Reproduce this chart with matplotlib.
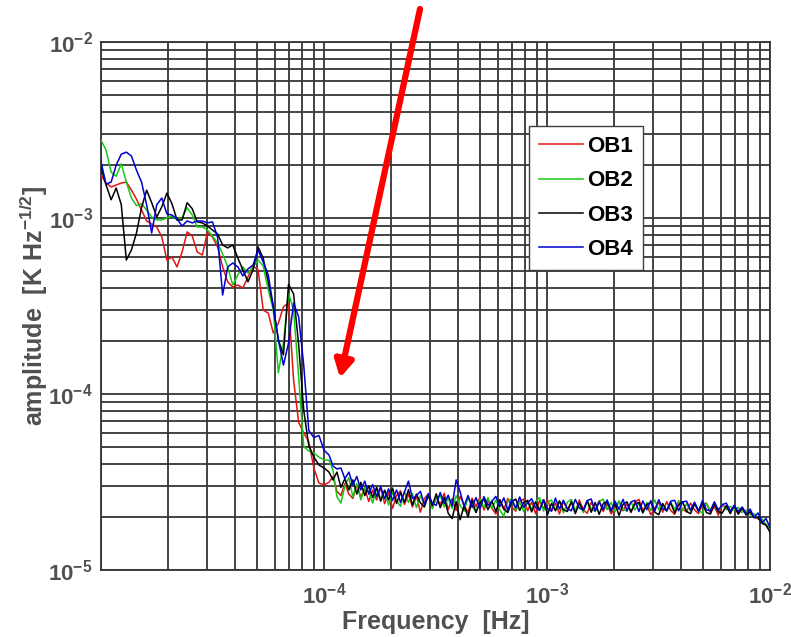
import numpy as np
import matplotlib
matplotlib.use("Agg")
import matplotlib.pyplot as plt
from matplotlib.ticker import LogLocator, FixedLocator, FixedFormatter, NullFormatter
from matplotlib.patches import FancyArrowPatch

plt.rcParams["font.family"] = ["Liberation Sans", "DejaVu Sans"]
plt.rcParams["mathtext.fontset"] = "custom"
plt.rcParams["mathtext.rm"] = "Liberation Sans"
plt.rcParams["mathtext.bf"] = "Liberation Sans:bold"
plt.rcParams["mathtext.it"] = "Liberation Sans:italic"

# Frequency bins [Hz]
freq_low = np.geomspace(1e-5, 1e-4, 45)
freq_high = np.geomspace(1.053e-4, 1e-2, 112)

# Amplitude spectral densities in micro-K Hz^-1/2
ob1_low = [1750, 1580, 1500, 1540, 1580, 1600, 1440, 1280, 1110, 962,
           925, 889, 779, 577, 600, 527, 641, 833, 790, 641,
           616, 833, 779, 685, 527, 434, 405, 416, 400, 463,
           534, 507, 300, 288, 222, 253, 313, 329, 120, 69,
           60, 53.5, 38, 31.2, 30.4]
ob2_low = [2770, 2430, 1822, 1727, 2031, 1600, 1298, 1175, 1205, 1110,
           1013, 975, 975, 1000, 1026, 975, 1000, 1144, 1040, 889,
           889, 855, 790, 721, 624, 527, 416, 475, 527, 487,
           527, 577, 534, 390, 300, 132, 195, 375, 300, 125,
           50.2, 47.4, 46.2, 43.8, 42.2]
ob3_low = [1920, 1540, 1270, 1480, 1190, 577, 658, 822, 1144, 1440,
           1221, 1013, 1159, 1385, 1205, 975, 975, 1221, 1129, 950,
           938, 901, 855, 811, 703, 676, 703, 592, 507, 434,
           507, 685, 592, 434, 313, 203, 167, 420, 370, 190,
           81, 50.8, 43.8, 39.5, 38]
ob4_low = [2085, 1556, 1600, 2000, 2306, 2367, 2250, 1870, 1600, 1190,
           822, 1190, 1298, 1054, 1040, 987, 901, 962, 938, 962,
           962, 938, 950, 779, 365, 527, 555, 527, 469, 514,
           541, 658, 562, 475, 313, 203, 146, 195, 329, 274,
           146, 62, 56.6, 58.1, 48]

ob1_high = [31.5, 34.0, 28.0, 26.5, 31.0, 27.0, 25.5, 30.5, 26.0, 29.0,
            24.5, 28.5, 25.0, 29.4, 23.8, 27.6, 22.4, 26.5, 28.2, 23.6,
            27.0, 22.8, 26.4, 21.3, 25.5, 27.0, 22.6, 25.8, 23.4, 27.3,
            22.0, 25.4, 21.8, 26.2, 23.4, 21.2, 25.6, 22.9, 26.0, 21.9,
            25.0, 22.4, 20.8, 24.9, 22.0, 25.5, 22.8, 21.6, 24.6, 25.3,
            21.7, 24.3, 20.9, 24.8, 22.3, 25.1, 21.6, 24.0, 20.8, 24.5,
            22.0, 24.5, 21.4, 25.0, 22.0, 21.0, 24.2, 21.9, 24.8, 21.5,
            23.9, 20.8, 22.6, 24.6, 21.7, 23.8, 21.2, 24.3, 25.2, 21.8,
            23.5, 20.6, 22.5, 24.2, 21.3, 24.5, 21.8, 20.7, 23.8, 22.2,
            21.4, 24.0, 22.0, 20.9, 23.6, 24.0, 21.2, 22.9, 20.5, 23.3,
            22.8, 21.3, 22.9, 20.8, 22.2, 20.9, 21.0, 20.2, 19.5, 18.9,
            18.0, 16.7]
ob2_high = [42.0, 37.0, 26.0, 24.0, 30.0, 33.5, 26.0, 31.0, 25.0, 29.5,
            28.0, 24.0, 29.0, 25.4, 28.3, 23.4, 27.5, 24.8, 23.0, 27.9,
            24.2, 27.2, 22.6, 26.4, 23.7, 26.8, 22.3, 25.6, 26.5, 22.8,
            25.6, 22.4, 26.4, 23.3, 21.6, 25.7, 23.1, 21.3, 25.3, 22.6,
            25.8, 22.3, 25.0, 21.9, 20.2, 24.7, 25.4, 21.9, 24.3, 21.5,
            24.9, 22.1, 24.4, 25.8, 21.6, 24.1, 25.0, 21.8, 24.6, 21.1,
            24.3, 25.2, 21.7, 24.0, 21.2, 24.8, 22.3, 21.5, 24.5, 25.3,
            22.0, 24.2, 21.4, 24.7, 22.1, 21.6, 24.4, 21.9, 24.0, 21.0,
            24.2, 21.8, 25.0, 22.0, 23.9, 21.5, 24.3, 22.1, 24.8, 21.7,
            23.8, 21.6, 24.1, 21.9, 21.0, 23.9, 21.8, 24.2, 21.4, 23.7,
            22.0, 23.0, 21.9, 22.7, 21.2, 21.9, 20.6, 20.9, 19.7, 19.5,
            18.2, 17.0]
ob3_high = [36.0, 32.5, 36.0, 29.5, 33.0, 28.5, 32.5, 27.0, 31.5, 26.5,
            30.0, 25.8, 29.5, 24.6, 28.4, 25.0, 29.2, 23.9, 27.5, 24.2,
            28.6, 23.4, 27.0, 24.1, 22.8, 26.5, 23.2, 27.1, 22.6, 25.8,
            21.0, 19.6, 24.5, 19.3, 23.2, 20.0, 24.9, 21.2, 24.1, 25.4,
            22.0, 24.6, 21.5, 25.1, 22.3, 21.2, 24.4, 25.3, 21.8, 24.2,
            24.8, 21.4, 24.3, 21.9, 25.0, 20.6, 23.9, 21.7, 24.7, 22.0,
            21.5, 24.4, 20.9, 24.0, 21.8, 24.7, 21.3, 24.2, 20.7, 23.8,
            24.5, 21.6, 23.9, 20.4, 23.6, 24.4, 21.4, 23.7, 24.2, 21.2,
            23.6, 24.3, 21.3, 20.6, 23.8, 21.7, 24.1, 21.1, 23.5, 24.4,
            21.5, 20.9, 23.8, 21.6, 24.0, 21.2, 20.8, 23.7, 21.4, 21.1,
            23.2, 20.9, 23.3, 20.8, 22.6, 20.5, 21.5, 19.8, 19.9, 18.4,
            18.0, 16.4]
ob4_high = [45.0, 39.0, 37.5, 38.0, 33.0, 36.0, 30.5, 34.0, 28.5, 32.0,
            27.0, 30.6, 26.2, 29.8, 25.4, 28.9, 24.8, 28.5, 24.2, 27.8,
            32.0, 25.5, 26.4, 28.0, 23.6, 27.2, 24.0, 23.3, 27.6, 23.9,
            26.6, 23.1, 32.5, 27.8, 23.0, 26.5, 22.7, 25.8, 22.2, 26.1,
            23.3, 24.6, 26.2, 22.9, 25.7, 21.9, 25.2, 22.5, 26.0, 22.7,
            24.1, 25.4, 22.6, 21.8, 25.1, 22.4, 21.6, 25.6, 22.2, 24.9,
            22.3, 21.7, 25.2, 22.5, 21.9, 24.8, 25.3, 21.6, 24.4, 22.0,
            25.0, 21.8, 24.6, 22.1, 25.2, 21.7, 24.3, 24.9, 21.5, 24.7,
            22.0, 24.8, 21.6, 25.1, 22.3, 21.8, 24.6, 24.9, 21.7, 24.4,
            24.6, 21.9, 24.3, 21.6, 24.8, 22.0, 21.7, 24.4, 21.9, 23.5,
            24.0, 21.6, 23.3, 21.5, 22.8, 20.9, 22.2, 19.9, 21.1, 18.6,
            19.6, 17.4]

series_names = ["OB1", "OB2", "OB3", "OB4"]
series_colors = ["#e01515", "#18c818", "#000000", "#0000d2"]
low_parts = [ob1_low, ob2_low, ob3_low, ob4_low]
high_parts = [ob1_high, ob2_high, ob3_high, ob4_high]

x_ticks = [1e-4, 1e-3, 1e-2]
x_tick_labels = [r"$\mathbf{10^{-4}}$", r"$\mathbf{10^{-3}}$", r"$\mathbf{10^{-2}}$"]
y_ticks = [1e-5, 1e-4, 1e-3, 1e-2]
y_tick_labels = [r"$\mathbf{10^{-5}}$", r"$\mathbf{10^{-4}}$", r"$\mathbf{10^{-3}}$", r"$\mathbf{10^{-2}}$"]

text_gray = "#505050"
grid_color = "#353535"

fig = plt.figure(figsize=(7.91, 6.37), dpi=100)
ax = fig.add_axes([101 / 791, 1 - 570 / 637, 669 / 791, 528 / 637])

freq = np.concatenate([freq_low, freq_high])
for name, color, lo, hi in zip(series_names, series_colors, low_parts, high_parts):
    amp = np.concatenate([lo, hi]) * 1e-6
    ax.plot(freq, amp, color=color, lw=1.1, label=name, zorder=3)

ax.set_xscale("log")
ax.set_yscale("log")
ax.set_xlim(1e-5, 1e-2)
ax.set_ylim(1e-5, 1e-2)

ax.xaxis.set_major_locator(FixedLocator(x_ticks))
ax.xaxis.set_major_formatter(FixedFormatter(x_tick_labels))
ax.yaxis.set_major_locator(FixedLocator(y_ticks))
ax.yaxis.set_major_formatter(FixedFormatter(y_tick_labels))
ax.xaxis.set_minor_locator(LogLocator(base=10, subs=np.arange(1, 10), numticks=40))
ax.yaxis.set_minor_locator(LogLocator(base=10, subs=np.arange(2, 10), numticks=40))
ax.xaxis.set_minor_formatter(NullFormatter())
ax.yaxis.set_minor_formatter(NullFormatter())

ax.grid(True, which="both", color=grid_color, lw=1.3, ls="-", zorder=1)
ax.set_axisbelow(True)
ax.tick_params(which="both", length=0)
ax.tick_params(axis="x", pad=9, labelsize=16, colors=text_gray)
ax.tick_params(axis="y", pad=6, labelsize=16, colors=text_gray)
for sp in ax.spines.values():
    sp.set_color(grid_color)
    sp.set_linewidth(1.3)

ax.set_xlabel("Frequency  [Hz]", fontsize=18, fontweight="bold", color=text_gray, labelpad=1)
ax.set_ylabel(r"amplitude  [K Hz$^{\mathbf{-1/2}}$]", fontsize=18, fontweight="bold",
              color=text_gray, labelpad=-1)

leg = ax.legend(loc="upper left", bbox_to_anchor=((529 - 101) / 669, 1 - (126 - 42) / 528),
                frameon=True, fancybox=False, framealpha=1, edgecolor="#404040",
                handlelength=2.0, handletextpad=0.15, labelspacing=0.6, borderpad=0.45,
                borderaxespad=0.0, prop={"weight": "bold", "size": 16})
leg.get_frame().set_linewidth(1.0)
leg.set_zorder(5)

# Red pointer arrow
arrow = FancyArrowPatch((420 / 791, 1 - 9 / 637), (340 / 791, 1 - 378 / 637),
                        transform=fig.transFigure, arrowstyle="-|>,head_length=10,head_width=5.5",
                        mutation_scale=1, color="#ff0000", lw=4.5, shrinkA=0, shrinkB=0,
                        zorder=10)
fig.add_artist(arrow)

fig.savefig("out.png", dpi=100, facecolor="white")
